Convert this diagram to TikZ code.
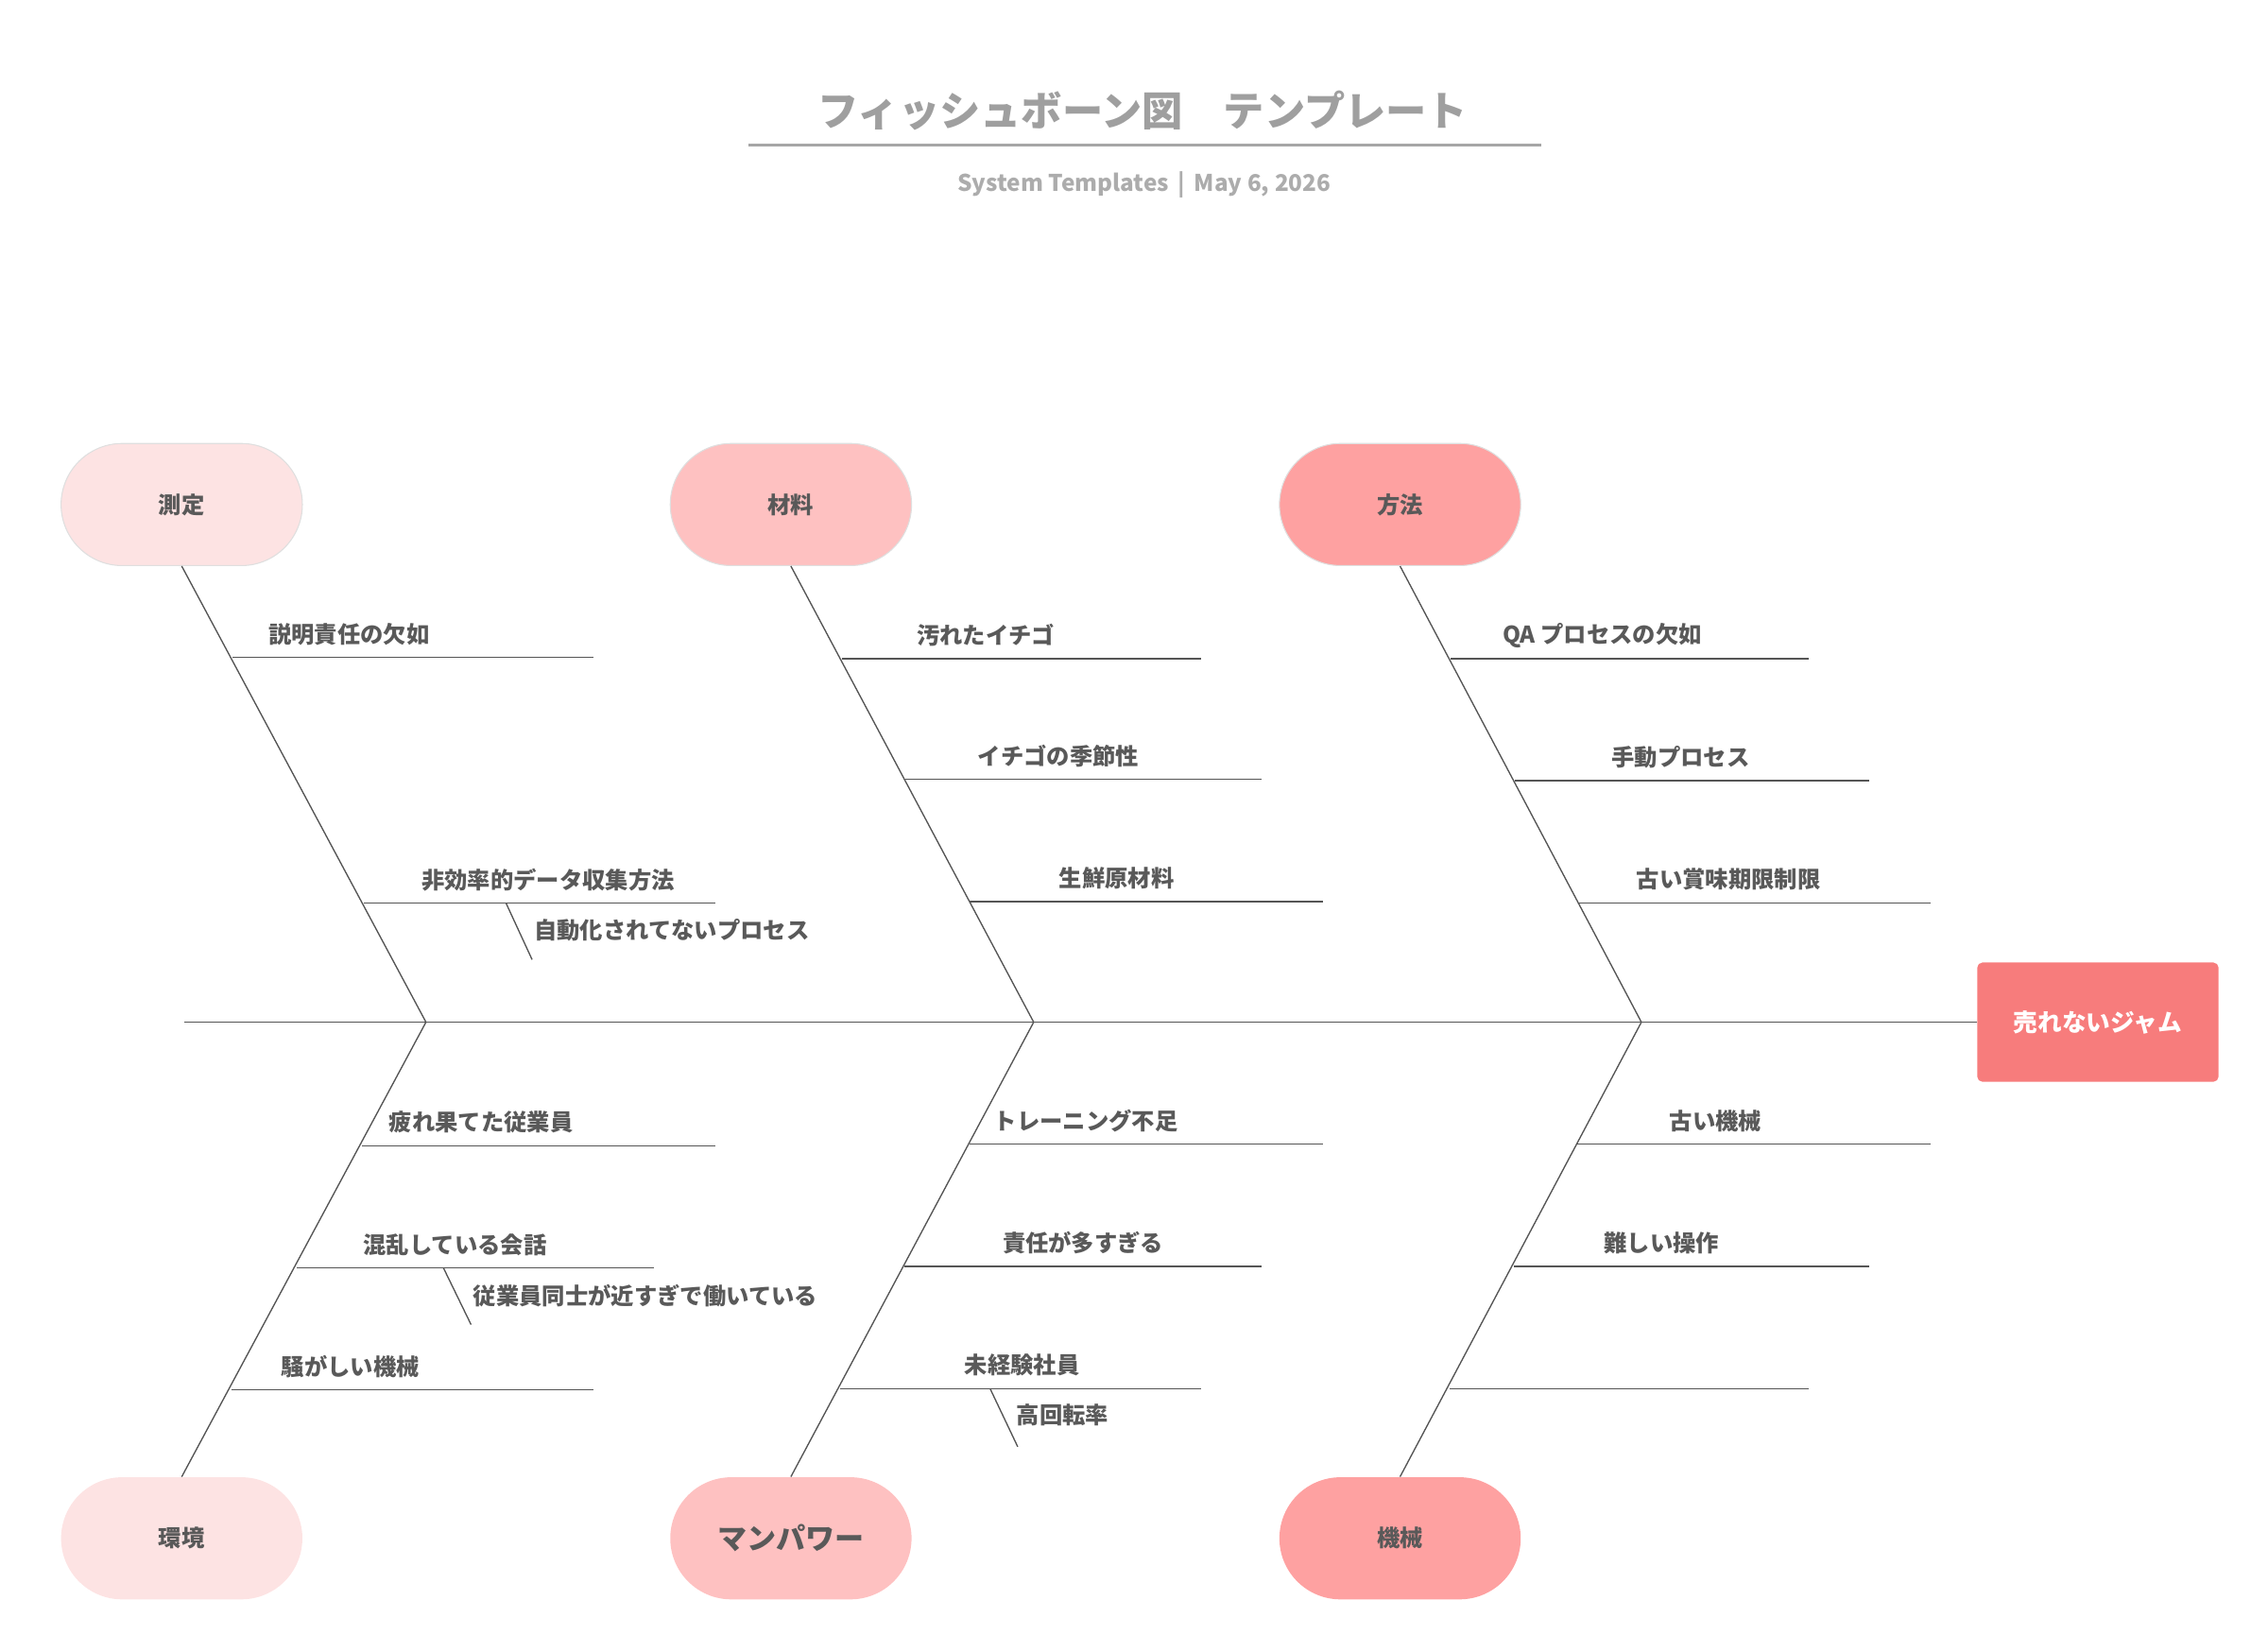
\documentclass[tikz,border=0pt]{standalone}
\usepackage{fontspec}
\setmainfont{Noto Sans CJK JP}
\definecolor{txt}{HTML}{595959}
\definecolor{c1}{HTML}{FDE3E3}
\definecolor{c2}{HTML}{FEC1C1}
\definecolor{c3}{HTML}{FEA1A1}
\definecolor{hd}{HTML}{F77C7C}
\definecolor{ln}{HTML}{555555}
\begin{document}
\begin{tikzpicture}[x=0.02cm,y=-0.02cm,
  pill/.style={rounded corners=0.84cm,minimum width=3.32cm,minimum height=1.68cm,draw=gray!25,line width=0.4pt,font=\bfseries\fontsize{9}{11}\selectfont,text=txt},
  lab/.style={font=\bfseries\fontsize{9}{11}\selectfont,text=txt,inner sep=0pt},
  bone/.style={draw=ln,line width=0.5pt}]
\useasboundingbox (0,0) rectangle (1560,1136);
\node[font=\bfseries\fontsize{16}{18}\selectfont,text=gray!75] (title) at (786,76) {フィッシュボーン図　テンプレート};
\coordinate (u1) at (515,100); \coordinate (u2) at (1060,100);
\draw[gray!70,line width=1pt] (u1) -- (u2);
\node[font=\bfseries\fontsize{9}{11}\selectfont,text=gray!65] (sub) at (787,127) {System Templates \,|\, May 6, 2026};
% spine
\coordinate (s0) at (127,703);
\node[fill=hd,rounded corners=2pt,minimum width=3.32cm,minimum height=1.64cm,font=\bfseries\fontsize{9.5}{11}\selectfont,text=white] (head) at (1443,703) {売れないジャム};
\draw[bone] (s0) -- (head.west);
% categories
\node[pill,fill=c1] (k1) at (125,347) {測定};
\node[pill,fill=c2] (k2) at (544,347) {材料};
\node[pill,fill=c3] (k3) at (963,347) {方法};
\node[pill,fill=c1,draw=none] (k4) at (125,1058) {環境};
\node[pill,fill=c2,draw=none,font=\bfseries\fontsize{11.5}{13}\selectfont] (k5) at (544,1058) {マンパワー};
\node[pill,fill=c3,draw=none] (k6) at (963,1058) {機械};
\coordinate (j1) at (293,703); \coordinate (j2) at (711,703); \coordinate (j3) at (1129,703);
\draw[bone] (k1.south) -- (j1); \draw[bone] (k2.south) -- (j2); \draw[bone] (k3.south) -- (j3);
\draw[bone] (k4.north) -- (j1); \draw[bone] (k5.north) -- (j2); \draw[bone] (k6.north) -- (j3);
% branches
\newcommand{\br}[6]{\coordinate (#1a) at (#2,#4); \coordinate (#1b) at (#3,#4); \draw[bone] (#1a) -- (#1b); \node[lab] (#1t) at (#5,#4-16) {#6};}
\br{a1}{160}{408}{452}{240}{説明責任の欠如}
\br{a2}{250}{492}{621}{377}{非効率的データ収集方法}
\coordinate (a3a) at (348,621); \coordinate (a3b) at (366,660); \draw[bone] (a3a) -- (a3b);
\node[lab] (a3t) at (462,640) {自動化されてないプロセス};
\br{b1}{579}{826}{453}{678}{汚れたイチゴ}
\br{b2}{623}{868}{536}{728}{イチゴの季節性}
\br{b3}{667}{910}{620}{768}{生鮮原材料}
\br{c1}{998}{1244}{453}{1102}{QA プロセスの欠如}
\br{c2}{1042}{1286}{537}{1156}{手動プロセス}
\br{c3}{1086}{1328}{621}{1189}{古い賞味期限制限}
\br{d1}{249}{492}{788}{331}{疲れ果てた従業員}
\br{d2}{204}{450}{872}{313}{混乱している会話}
\coordinate (d4a) at (305,872); \coordinate (d4b) at (324,911); \draw[bone] (d4a) -- (d4b);
\node[lab] (d4t) at (444,891) {従業員同士が近すぎで働いている};
\br{d3}{159}{408}{956}{241}{騒がしい機械}
\br{e1}{667}{910}{787}{747}{トレーニング不足}
\br{e2}{622}{868}{871}{745}{責任が多すぎる}
\br{e3}{578}{826}{955}{703}{未経験社員}
\coordinate (e4a) at (681,955); \coordinate (e4b) at (700,995); \draw[bone] (e4a) -- (e4b);
\node[lab] (e4t) at (731,973) {高回転率};
\br{f1}{1085}{1328}{787}{1180}{古い機械}
\br{f2}{1041}{1286}{871}{1143}{難しい操作}
\coordinate (f3a) at (997,955); \coordinate (f3b) at (1244,955); \draw[bone] (f3a) -- (f3b);
\end{tikzpicture}
\end{document}
